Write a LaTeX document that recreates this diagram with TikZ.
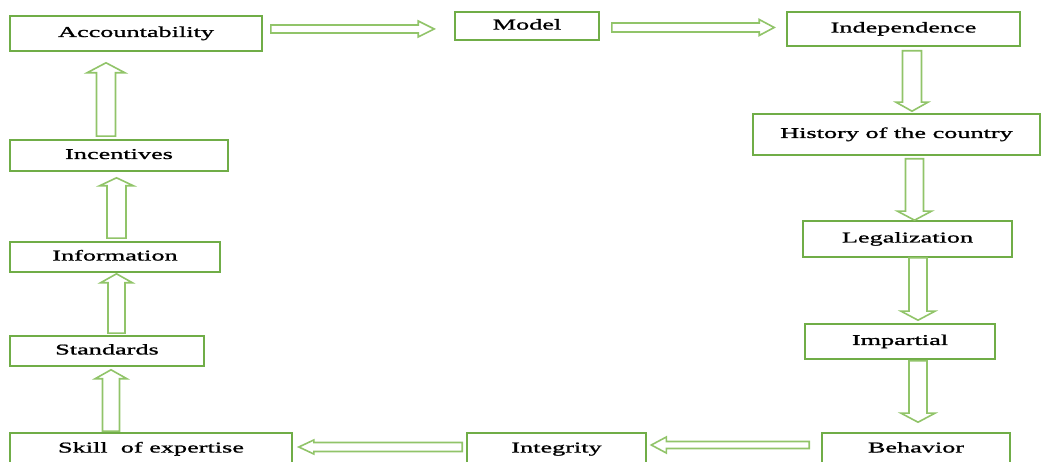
\documentclass[tikz,border=0pt]{standalone}
\usepackage{fontspec}
\setmainfont{Liberation Serif}[FakeStretch=1.75, FakeBold=1.2]
\usetikzlibrary{calc}
\definecolor{boxgreen}{RGB}{112,173,71}
\definecolor{arrgreen}{RGB}{145,196,105}
\tikzset{
  box/.style={draw=boxgreen, line width=1.6pt, fill=white, inner sep=0pt,
    text height=10pt, text depth=3pt, font=\fontsize{15}{18}\selectfont},
  arrowline/.style={draw=arrgreen, line width=1.6pt, fill=white, line join=miter},
}
% #1 start, #2 tip, #3 shaft half width, #4 head half width, #5 head length
\newcommand\barrow[5]{%
  \path #1 coordinate (bA) #2 coordinate (bE);
  \path ($(bE)!#5!(bA)$) coordinate (bH);
  \draw[arrowline] ($(bA)!#3!90:(bE)$) -- ($(bH)!#3!90:(bE)$) -- ($(bH)!#4!90:(bE)$) -- (bE)
    -- ($(bH)!#4!-90:(bE)$) -- ($(bH)!#3!-90:(bE)$) -- ($(bA)!#3!-90:(bE)$) -- cycle;
}
\begin{document}
\begin{tikzpicture}[x=1pt, y=-1pt]
\useasboundingbox (0,0) rectangle (1045,462);
\clip (0,0) rectangle (1045,462);
% nodes
\node[box, minimum width=252pt, minimum height=35pt] (acc) at (136,33.5) {Accountability};
\node[box, minimum width=144pt, minimum height=28pt] (model) at (527,26) {Model};
\node[box, minimum width=233pt, minimum height=34pt] (indep) at (903.5,29) {Independence};
\node[box, minimum width=287pt, minimum height=41pt] (hist) at (896.5,134.5) {History of the country};
\node[box, minimum width=209pt, minimum height=36pt] (legal) at (907.5,239) {Legalization};
\node[box, minimum width=190pt, minimum height=35pt] (impart) at (900,341.5) {Impartial};
\node[box, minimum width=188pt, minimum height=32pt] (behav) at (916,449) {Behavior};
\node[box, minimum width=179pt, minimum height=32pt] (integ) at (556.5,449) {Integrity};
\node[box, minimum width=282pt, minimum height=32pt] (skill) at (151,449) {Skill\ \ of expertise};
\node[box, minimum width=194pt, minimum height=30pt] (stand) at (107,351) {Standards};
\node[box, minimum width=210pt, minimum height=30pt] (info) at (115,257) {Information};
\node[box, minimum width=218pt, minimum height=31pt] (incent) at (119,155.5) {Incentives};
% block arrows
\barrow{($(acc.east)+(8,-4.5)$)}{($(model.west)+(-20,3)$)}{4pt}{8pt}{16pt}
\barrow{($(model.east)+(12,1.5)$)}{($(indep.west)+(-12,-1.5)$)}{4.5pt}{8pt}{15pt}
\barrow{($(indep.south)+(8.5,4)$)}{($(hist.north)+(15.5,-2)$)}{9.5pt}{16pt}{9pt}
\barrow{($(hist.south)+(18,3)$)}{($(legal.north)+(7,0)$)}{9pt}{17pt}{9pt}
\barrow{($(legal.south)+(10.5,0)$)}{($(impart.north)+(18,-3)$)}{9pt}{17pt}{9pt}
\barrow{($(impart.south)+(18,1)$)}{($(behav.north)+(2,-10)$)}{9pt}{17pt}{9pt}
\barrow{($(behav.west)+(-12,-4)$)}{($(integ.east)+(4.5,-4)$)}{3.5pt}{8pt}{15pt}
\barrow{($(integ.west)+(-4,-2)$)}{($(skill.east)+(6,-2)$)}{4.5pt}{7pt}{15pt}
\barrow{($(skill.north)+(-40,-1)$)}{($(stand.south)+(4,3)$)}{8.5pt}{16pt}{9pt}
\barrow{($(stand.north)+(9.5,-2)$)}{($(info.south)+(1.5,1)$)}{8.5pt}{16pt}{9pt}
\barrow{($(info.north)+(1.5,-3)$)}{($(incent.south)+(-2.5,6)$)}{9.5pt}{17pt}{8pt}
\barrow{($(incent.north)+(-13,-3)$)}{($(acc.south)+(-30,11)$)}{9.5pt}{19pt}{10pt}
\end{tikzpicture}
\end{document}
